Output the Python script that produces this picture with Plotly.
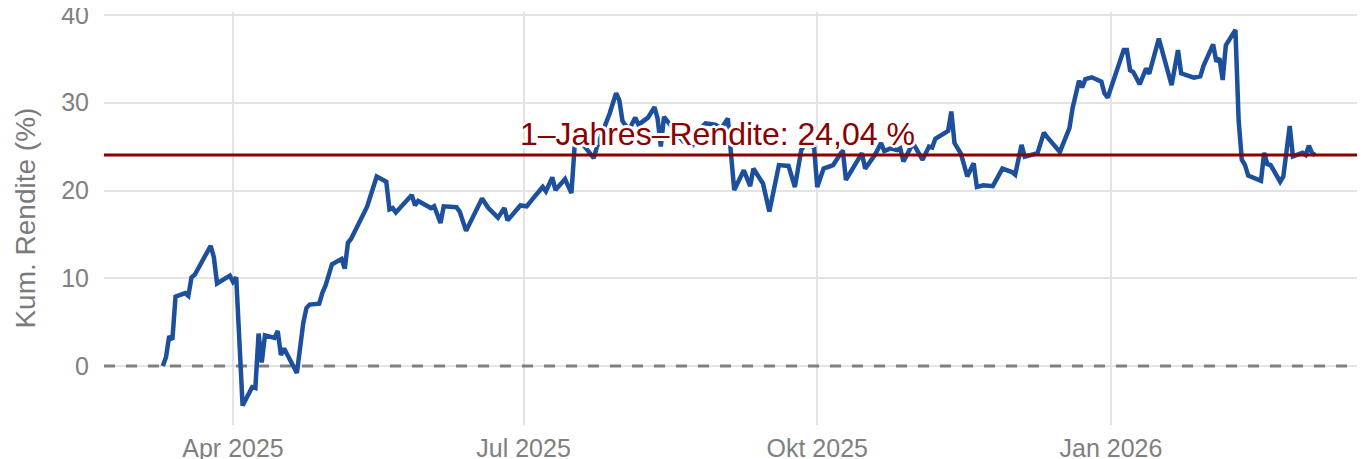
import plotly.graph_objects as go

dates = [
    "2025-03-10", "2025-03-11", "2025-03-12", "2025-03-13", "2025-03-14", "2025-03-17",
    "2025-03-18", "2025-03-19", "2025-03-20", "2025-03-25", "2025-03-26", "2025-03-27",
    "2025-03-31", "2025-04-01", "2025-04-02", "2025-04-04", "2025-04-07", "2025-04-08",
    "2025-04-09", "2025-04-10", "2025-04-11", "2025-04-14", "2025-04-15", "2025-04-16",
    "2025-04-17", "2025-04-21", "2025-04-23", "2025-04-24", "2025-04-25", "2025-04-28",
    "2025-04-29", "2025-04-30", "2025-05-02", "2025-05-05", "2025-05-06", "2025-05-07",
    "2025-05-08", "2025-05-12", "2025-05-13", "2025-05-16", "2025-05-19", "2025-05-20",
    "2025-05-21", "2025-05-22", "2025-05-27", "2025-05-28", "2025-05-29", "2025-06-02",
    "2025-06-03", "2025-06-05", "2025-06-06", "2025-06-10", "2025-06-11", "2025-06-13",
    "2025-06-18", "2025-06-20", "2025-06-23", "2025-06-25", "2025-06-26", "2025-06-30",
    "2025-07-02", "2025-07-04", "2025-07-07", "2025-07-08", "2025-07-10", "2025-07-11",
    "2025-07-14", "2025-07-16", "2025-07-17", "2025-07-18", "2025-07-22", "2025-07-23",
    "2025-07-24", "2025-07-28", "2025-07-30", "2025-07-31", "2025-08-01", "2025-08-03",
    "2025-08-05", "2025-08-06", "2025-08-09", "2025-08-11", "2025-08-12", "2025-08-13",
    "2025-08-14", "2025-08-16", "2025-08-18", "2025-08-20", "2025-08-23", "2025-08-25",
    "2025-08-27", "2025-08-30", "2025-09-01", "2025-09-03", "2025-09-05", "2025-09-08",
    "2025-09-10", "2025-09-11", "2025-09-14", "2025-09-16", "2025-09-19", "2025-09-22",
    "2025-09-24", "2025-09-26", "2025-09-27", "2025-09-30", "2025-10-01", "2025-10-03",
    "2025-10-06", "2025-10-09", "2025-10-10", "2025-10-14", "2025-10-15", "2025-10-16",
    "2025-10-19", "2025-10-21", "2025-10-22", "2025-10-24", "2025-10-26", "2025-10-27",
    "2025-10-28", "2025-10-31", "2025-11-01", "2025-11-03", "2025-11-05", "2025-11-06",
    "2025-11-07", "2025-11-11", "2025-11-12", "2025-11-13", "2025-11-15", "2025-11-17",
    "2025-11-19", "2025-11-20", "2025-11-22", "2025-11-25", "2025-11-28", "2025-12-01",
    "2025-12-02", "2025-12-04", "2025-12-05", "2025-12-08", "2025-12-09", "2025-12-11",
    "2025-12-12", "2025-12-16", "2025-12-19", "2025-12-20", "2025-12-22", "2025-12-23",
    "2025-12-24", "2025-12-26", "2025-12-29", "2025-12-30", "2025-12-31", "2026-01-05",
    "2026-01-06", "2026-01-07", "2026-01-08", "2026-01-10", "2026-01-12", "2026-01-13",
    "2026-01-16", "2026-01-20", "2026-01-22", "2026-01-23", "2026-01-27", "2026-01-29",
    "2026-01-30", "2026-02-02", "2026-02-03", "2026-02-04", "2026-02-05", "2026-02-06",
    "2026-02-09", "2026-02-10", "2026-02-11", "2026-02-12", "2026-02-13", "2026-02-17",
    "2026-02-18", "2026-02-19", "2026-02-20", "2026-02-23", "2026-02-24", "2026-02-26",
    "2026-02-27", "2026-03-02", "2026-03-03", "2026-03-04", "2026-03-05", "2026-03-06",
]

cum_return = [
    0.0, 1.0, 3.4, 3.0, 7.9, 8.3,
    8.0, 10.1, 10.4, 13.7, 12.4, 9.4,
    10.3, 9.6, 10.1, -4.5, -2.4, -2.5,
    3.7, 0.4, 3.5, 3.2, 4.0, 1.25,
    2.0, -0.8, 4.9, 6.6, 7.0, 7.1,
    8.35, 9.2, 11.6, 12.2, 11.1, 14.05,
    14.5, 17.4, 18.15, 21.6, 21.0, 17.85,
    18.0, 17.5, 19.5, 18.3, 18.8, 18.0,
    18.2, 16.3, 18.2, 18.1, 17.6, 15.4,
    19.1, 18.0, 16.9, 18.0, 16.6, 18.3,
    18.2, 19.1, 20.4, 19.9, 21.5, 20.05,
    21.3, 19.7, 25.0, 26.0, 24.0, 23.7,
    25.0, 28.8, 31.1, 30.3, 27.9, 26.9,
    28.3, 27.5, 28.3, 29.5, 28.2, 25.0,
    28.4, 27.5, 26.5, 25.6, 25.2, 26.9,
    27.65, 27.5, 27.1, 28.2, 20.05, 22.3,
    20.5, 22.5, 20.8, 17.6, 22.9, 22.8,
    20.4, 24.6, 25.2, 25.0, 20.4, 22.5,
    22.9, 24.6, 21.2, 23.5, 24.25, 22.5,
    24.0, 25.4, 24.5, 24.8, 24.6, 24.8,
    23.3, 25.4, 24.8, 23.5, 25.0, 24.9,
    25.9, 26.8, 29.0, 25.4, 24.2, 21.6,
    23.1, 20.4, 20.6, 20.5, 22.5, 22.1,
    21.8, 25.2, 23.85, 24.25, 24.25, 26.6,
    26.1, 24.4, 27.1, 29.4, 32.5, 31.75,
    32.7, 32.9, 32.4, 31.05, 30.6, 36.0,
    36.0, 33.7, 33.5, 32.1, 33.9, 33.3,
    37.3, 32.0, 36.0, 33.35, 32.85, 33.0,
    34.2, 36.65, 34.7, 35.05, 32.6, 36.55,
    38.3, 28.0, 23.5, 22.9, 21.7, 21.1,
    24.3, 23.0, 22.9, 21.0, 21.6, 27.35,
    23.9, 24.3, 24.05, 25.1, 24.25, 24.04,
]

one_year_return = 24.04
baseline = 0
label_text = "1\u2013Jahres\u2013Rendite: 24,04 %"
x_tick_vals = ["2025-04-01", "2025-07-01", "2025-10-01", "2026-01-01"]
x_tick_text = ["Apr 2025", "Jul 2025", "Okt 2025", "Jan 2026"]
y_tick_vals = [0, 10, 20, 30, 40]
y_title = "Kum. Rendite (%)"

x_range = ["2025-02-19 14:00", "2026-03-21 14:00"]
y_range = [-6.72, 40.34]

font_family = "Liberation Sans, Arial, sans-serif"
grid_col = "#e3e3e3"
text_col = "#808080"

fig = go.Figure()

# dashed zero reference line across the whole panel (under the series)
fig.add_trace(go.Scatter(
    x=x_range, y=[baseline, baseline], mode="lines",
    line=dict(color="#808080", width=3, dash="11px,11px"),
    hoverinfo="skip", showlegend=False,
))

fig.add_trace(go.Scatter(
    x=dates, y=cum_return, mode="lines",
    line=dict(color="#1c4f9c", width=4.5),
    hoverinfo="skip", showlegend=False,
))

fig.add_hline(y=one_year_return, line=dict(color="#8b0000", width=3), layer="above")

halo = ", ".join(
    f"white {dx}px {dy}px 0px" for dx, dy in
    [(2, 0), (-2, 0), (0, 2), (0, -2), (2, 2), (-2, -2), (2, -2), (-2, 2), (3, 0), (-3, 0), (0, 3), (0, -3)]
)

fig.add_annotation(
    x="2025-08-30 18:00", y=26.4, xref="x", yref="y",
    text=label_text, showarrow=False,
    xanchor="center", yanchor="middle",
    font=dict(family=font_family, size=32, color="#8b0000", shadow=halo),
)

fig.add_annotation(
    x=-0.0626, y=0.5, xref="paper", yref="paper",
    text=y_title, showarrow=False, textangle=-90,
    xanchor="center", yanchor="middle",
    font=dict(family=font_family, size=28, color="#7a7a7a"),
)

# page body adds an 8px offset; compensate so the plot area lands where the reference has it
fig.update_layout(
    width=1357, height=451,
    margin=dict(l=96, r=0, t=4, b=34, autoexpand=False),
    paper_bgcolor="white", plot_bgcolor="white",
    font=dict(family=font_family, color=text_col),
    showlegend=False,
)

fig.update_xaxes(
    type="date",
    range=x_range,
    tickvals=x_tick_vals, ticktext=x_tick_text,
    showgrid=True, gridcolor=grid_col, gridwidth=2,
    zeroline=False, showline=False, ticks="",
    tickfont=dict(family=font_family, size=25, color=text_col),
    ticklabelstandoff=6,
    ticklabeloverflow="allow",
    automargin=False,
)

fig.update_yaxes(
    range=y_range,
    tickvals=y_tick_vals,
    showgrid=True, gridcolor=grid_col, gridwidth=2,
    zeroline=False, showline=False, ticks="",
    tickfont=dict(family=font_family, size=25, color=text_col),
    ticklabelstandoff=14,
    ticklabeloverflow="allow",
    automargin=False,
)

fig.write_html("out.html")
